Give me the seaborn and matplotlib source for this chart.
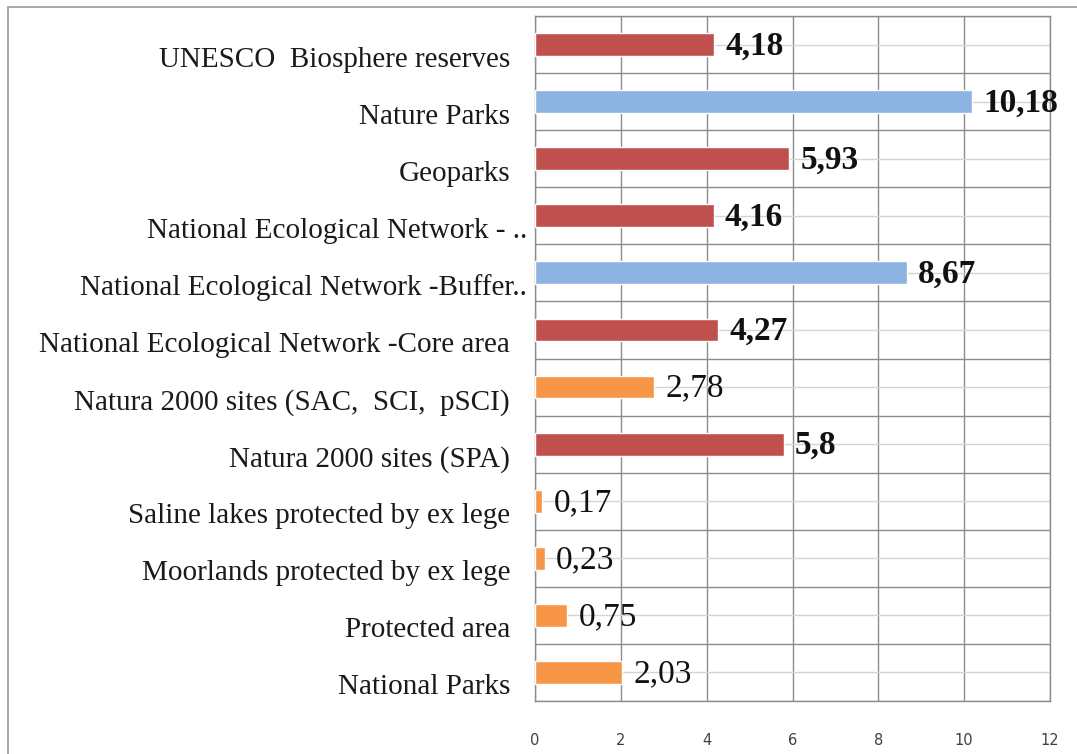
import matplotlib
matplotlib.use('Agg')
import matplotlib.pyplot as plt
import matplotlib.transforms as mtransforms
from matplotlib.patches import Rectangle
from matplotlib.ticker import FixedLocator
import pandas as pd
import seaborn as sns

# Data (top to bottom as shown)
categories = [
    'UNESCO  Biosphere reserves',
    'Nature Parks',
    'Geoparks',
    'National Ecological Network - ..',
    'National Ecological Network -Buffer..',
    'National Ecological Network -Core area',
    'Natura 2000 sites (SAC,  SCI,  pSCI)',
    'Natura 2000 sites (SPA)',
    'Saline lakes protected by ex lege',
    'Moorlands protected by ex lege',
    'Protected area',
    'National Parks',
]
values = [4.18, 10.18, 5.93, 4.16, 8.67, 4.27, 2.78, 5.8, 0.17, 0.23, 0.75, 2.03]
groups = ['red', 'blue', 'red', 'red', 'blue', 'red',
          'orange', 'red', 'orange', 'orange', 'orange', 'orange']
group_colors = {'red': '#C0504D', 'blue': '#8DB3E2', 'orange': '#F79646'}
x_ticks = [0, 2, 4, 6, 8, 10, 12]

df = pd.DataFrame({'category': categories, 'value': values, 'group': groups})

sns.set_style("white")
plt.rcParams['font.family'] = ['Liberation Serif', 'DejaVu Serif']

fig = plt.figure(figsize=(10.77, 7.54), dpi=100)
ax = fig.add_axes([535 / 1077, 1 - 701 / 754, (1050 - 535) / 1077, (701 - 16) / 754])

sns.barplot(data=df, x='value', y='category', hue='category',
            palette=[group_colors[g] for g in groups], legend=False,
            orient='h', width=0.4, ax=ax, zorder=3, saturation=1)

ax.set_xlim(0, 12)
ax.set_ylim(len(categories) - 0.5, -0.5)
ax.set_xlabel('')
ax.set_ylabel('')

# grid: vertical lines at x ticks, horizontal lines at boundaries and centers
ax.xaxis.set_major_locator(FixedLocator(x_ticks))
ax.yaxis.set_minor_locator(FixedLocator([i - 0.5 for i in range(len(categories) + 1)]))
ax.grid(axis='x', which='major', color='#8c8c8c', linewidth=1, zorder=0)
ax.grid(axis='y', which='minor', color='#8c8c8c', linewidth=1, zorder=0)
ax.grid(axis='y', which='major', color='#d4d4d4', linewidth=1, zorder=0)
ax.set_axisbelow(True)

for s in ax.spines.values():
    s.set_color('#8c8c8c')
    s.set_linewidth(1)

ax.tick_params(axis='y', which='major', length=0, pad=18, labelsize=21,
               labelcolor='#1a1a1a')
ax.tick_params(axis='y', which='minor', length=6, color='#8c8c8c', direction='out')
ax.tick_params(axis='x', which='major', length=4, color='#8c8c8c', pad=19,
               labelsize=10.5, labelcolor='#404040')
for lab in ax.get_xticklabels():
    lab.set_family('DejaVu Sans')

# shift category labels down a bit, ellipsis ones extend to the right
for i, lab in enumerate(ax.get_yticklabels()):
    dx = 17 / 100 if lab.get_text().endswith('..') else 0
    lab.set_transform(lab.get_transform() +
                      mtransforms.ScaledTranslation(dx, -12 / 100, fig.dpi_scale_trans))

# value labels
for i, (v, g) in enumerate(zip(values, groups)):
    txt = f"{v:g}".replace('.', ',')
    ax.annotate(txt, xy=(v, i), xytext=(8, -1), textcoords='offset points',
                va='center', ha='left', fontsize=24,
                fontweight='normal' if g == 'orange' else 'bold',
                color='#111111', zorder=4)

# outer chart border
fig.patches.append(Rectangle((8 / 1077, -0.1), 1.2, 1 - 7 / 754 + 0.1,
                             transform=fig.transFigure, fill=False,
                             edgecolor='#9a9a9a', linewidth=1.2))

plt.savefig('out.png', dpi=100)
plt.close()
